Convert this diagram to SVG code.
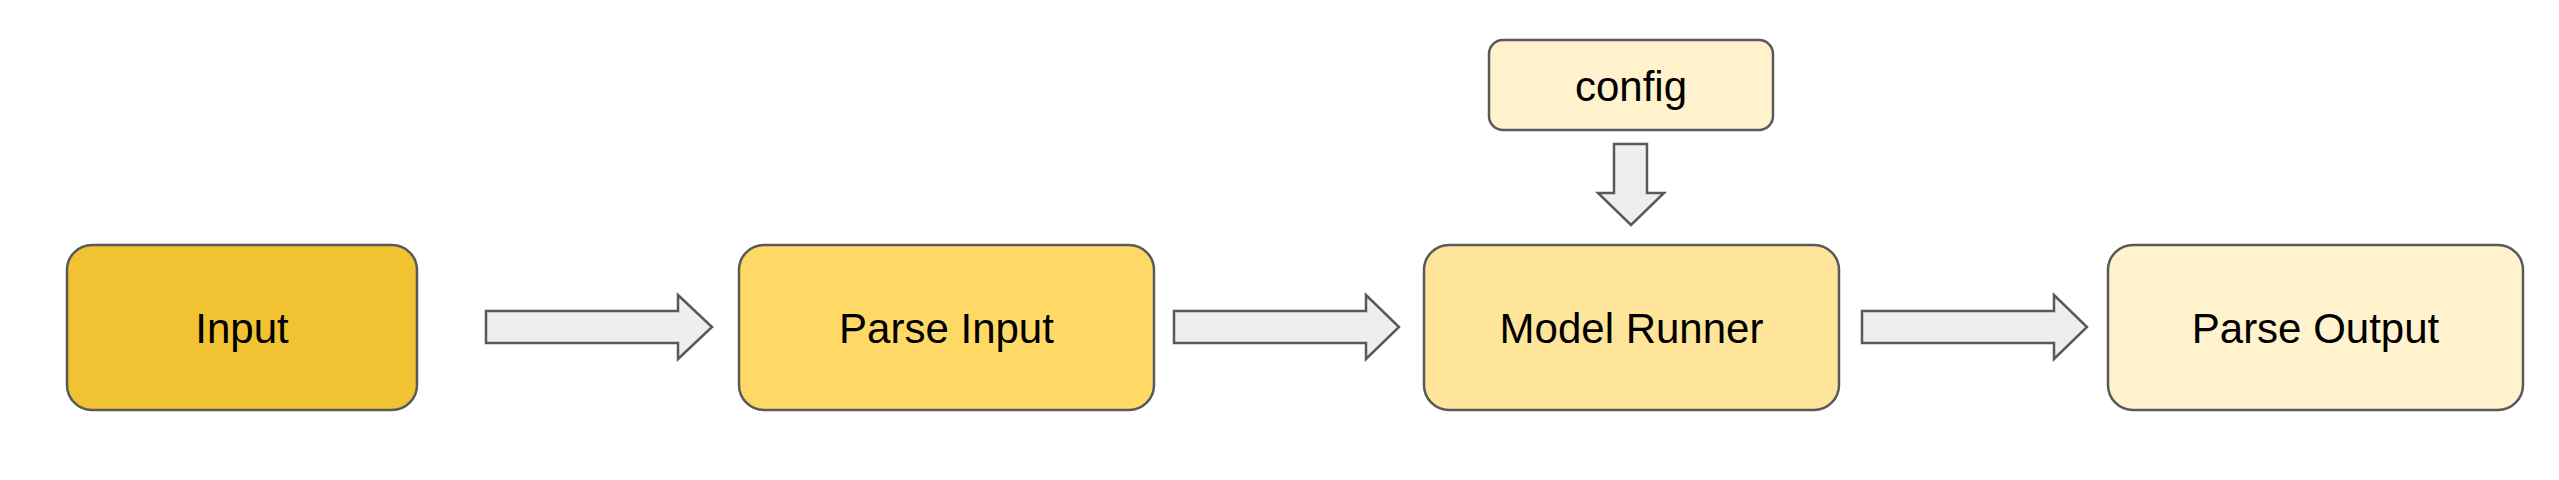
<svg xmlns="http://www.w3.org/2000/svg" width="2559" height="480" viewBox="0 0 2559 480">
<style>
.box{stroke:#595959;stroke-width:2.5}
.arrow{fill:#EEEEEE;stroke:#595959;stroke-width:2.5;stroke-linejoin:miter}
.label{font-family:"Liberation Sans",Arial,sans-serif;font-size:42px;fill:#000000;text-anchor:middle}
</style>
<rect x="0" y="0" width="2559" height="480" fill="#FFFFFF"/>
<g id="connectors">
<polygon class="arrow" points="486,311 678,311 678,295 712,327 678,359 678,343 486,343"/>
<polygon class="arrow" points="1174,311 1366,311 1366,295 1399,327 1366,359 1366,343 1174,343"/>
<polygon class="arrow" points="1862,311 2054,311 2054,295 2087,327 2054,359 2054,343 1862,343"/>
<polygon class="arrow" points="1614,144 1647,144 1647,193 1664,193 1631,225 1598,193 1614,193"/>
</g>
<g id="node-input">
<rect class="box" x="67" y="245" width="350" height="165" rx="25" ry="25" fill="#F1C232"/>
<text class="label" x="242" y="343">Input</text>
</g>
<g id="node-parse-input">
<rect class="box" x="739" y="245" width="415" height="165" rx="25" ry="25" fill="#FFD966"/>
<text class="label" x="946.5" y="343">Parse Input</text>
</g>
<g id="node-model-runner">
<rect class="box" x="1424" y="245" width="415" height="165" rx="25" ry="25" fill="#FFE599"/>
<text class="label" x="1631.5" y="343">Model Runner</text>
</g>
<g id="node-parse-output">
<rect class="box" x="2108" y="245" width="415" height="165" rx="25" ry="25" fill="#FFF2CC"/>
<text class="label" x="2315.5" y="343">Parse Output</text>
</g>
<g id="node-config">
<rect class="box" x="1489" y="40" width="284" height="90" rx="14" ry="14" fill="#FFF2CC"/>
<text class="label" x="1631" y="101">config</text>
</g>
</svg>
